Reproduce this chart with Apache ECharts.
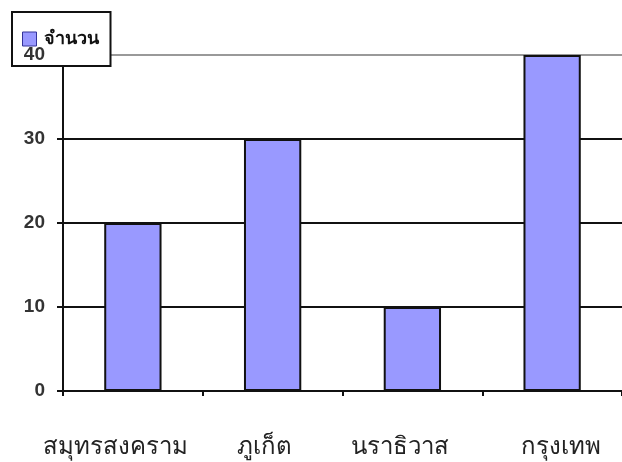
<!DOCTYPE html>
<html>
<head>
<meta charset="utf-8">
<script src="https://cdn.jsdelivr.net/npm/echarts@6/dist/echarts.min.js"></script>
<style>
  html, body { margin: 0; padding: 0; background: #fff; }
  #chart { width: 622px; height: 462px; }
</style>
</head>
<body>
<div id="chart"></div>
<script>
const categories = ['สมุทรสงคราม', 'ภูเก็ต', 'นราธิวาส', 'กรุงเทพ'];
const seriesName = 'จำนวน';
const values = [20, 30, 10, 40];
const yTicks = [0, 10, 20, 30, 40];
// horizontal nudge of each category label (style only)
const labelShift = [-17, -8, -12, 9];

const chart = echarts.init(document.getElementById('chart'), null, { renderer: 'canvas' });
const yMin = yTicks[0], yMax = yTicks[yTicks.length - 1], yStep = yTicks[1] - yTicks[0];

const catData = categories.map((c, i) => {
  const s = labelShift[i];
  return {
    value: c,
    textStyle: { padding: s < 0 ? [0, -2 * s, 0, 0] : [0, 0, 0, 2 * s] }
  };
});

chart.setOption({
  animation: false,
  backgroundColor: '#ffffff',
  legend: {
    left: 12, top: 12,
    padding: [18, 12, 18, 10],
    itemWidth: 14, itemHeight: 14, itemGap: 10,
    backgroundColor: '#ffffff',
    borderColor: '#111', borderWidth: 2,
    icon: 'rect',
    z: 5,
    textStyle: { fontFamily: 'Noto Sans, DejaVu Sans, sans-serif', fontWeight: 'bold', fontSize: 18, color: '#111', padding: [0, 0, 0, 2] },
    data: [{ name: seriesName, itemStyle: { color: '#9999ff', borderColor: '#333399', borderWidth: 1 } }]
  },
  grid: { left: 63, top: 55, width: 566, height: 336, containLabel: false },
  xAxis: {
    type: 'category',
    data: catData,
    boundaryGap: true,
    axisLine: { lineStyle: { color: '#111', width: 2 } },
    axisTick: { show: true, inside: false, interval: 0, length: 5, lineStyle: { color: '#111', width: 2 } },
    axisLabel: { interval: 0, margin: 44, fontSize: 24, color: '#222', fontFamily: 'Noto Sans, DejaVu Sans, sans-serif' }
  },
  yAxis: [{
    type: 'value', min: yMin, max: yMax, interval: yStep,
    axisLine: { show: true, lineStyle: { color: '#111', width: 2 } },
    axisTick: { show: true, length: 6, lineStyle: { color: '#111', width: 2 } },
    axisLabel: { show: false },
    splitLine: { show: true, lineStyle: { color: ['#111', '#111', '#111', '#111', '#999'], width: 2 } },
    z: 0
  }, {
    type: 'value', min: yMin, max: yMax, interval: yStep, position: 'left',
    axisLine: { show: false }, axisTick: { show: false }, splitLine: { show: false },
    axisLabel: { margin: 18, fontSize: 19, fontWeight: 'bold', color: '#333', fontFamily: 'Liberation Sans, Arial, sans-serif' },
    z: 10
  }],
  series: [{
    name: seriesName,
    type: 'bar',
    data: values,
    barWidth: '41%',
    itemStyle: { color: '#9999ff', borderColor: '#111', borderWidth: 2 }
  }]
});
</script>
</body>
</html>
